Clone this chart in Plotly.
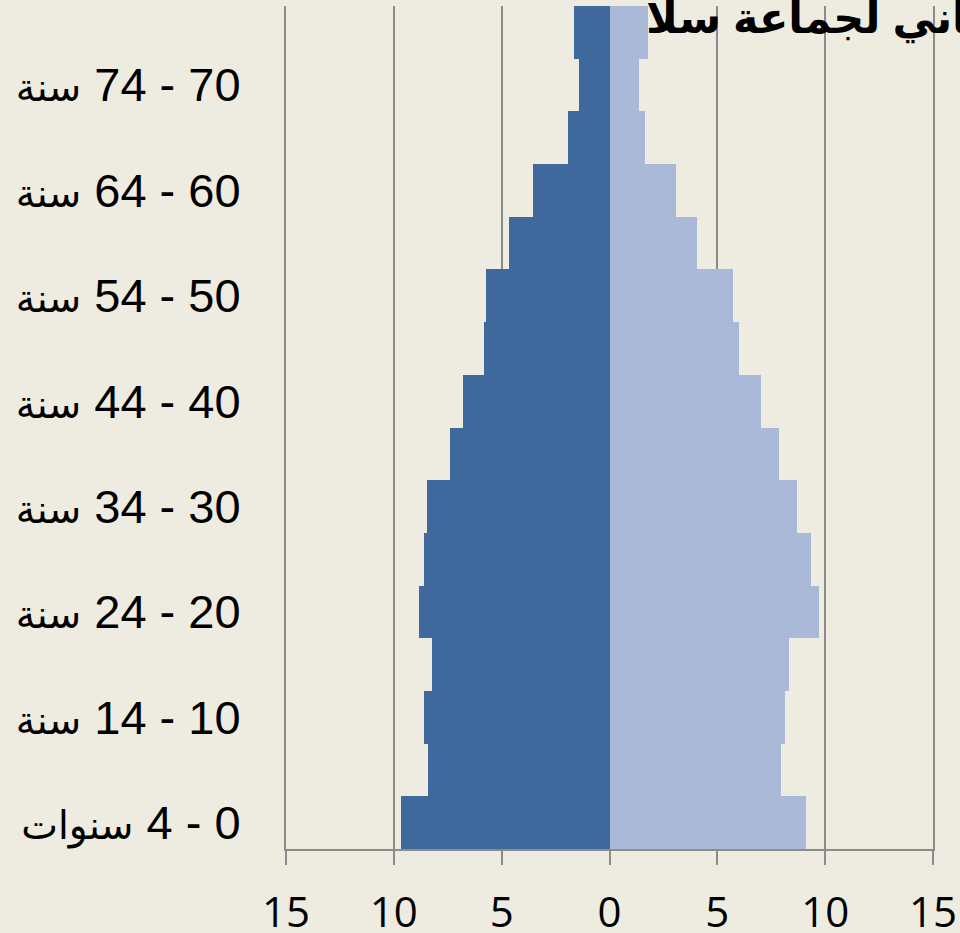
import plotly.graph_objects as go

# Age groups (bottom to top)
age_ranges = ["0 - 4", "5 - 9", "10 - 14", "15 - 19", "20 - 24", "25 - 29",
              "30 - 34", "35 - 39", "40 - 44", "45 - 49", "50 - 54", "55 - 59",
              "60 - 64", "65 - 69", "70 - 74", "75 +"]
age_units = ["سنوات", "سنوات", "سنة", "سنة", "سنة", "سنة", "سنة", "سنة",
             "سنة", "سنة", "سنة", "سنة", "سنة", "سنة", "سنة", "سنة"]

# Percentages
left_values = [9.67, 8.42, 8.58, 8.24, 8.85, 8.62, 8.48, 7.40,
               6.80, 5.80, 5.74, 4.64, 3.57, 1.92, 1.41, 1.64]
right_values = [9.11, 7.96, 8.16, 8.31, 9.70, 9.32, 8.71, 7.84,
                7.02, 6.00, 5.73, 4.07, 3.07, 1.63, 1.35, 1.77]

x_tick_vals = [-15, -10, -5, 0, 5, 10, 15]
x_tick_text = ["15", "10", "5", "0", "5", "10", "15"]

title_text = "الهرم السكاني لجماعة سلا"

BG = "#EEECE1"
DARK = "#3F699C"
LIGHT = "#AAB9D7"
GRID = "#8C8C8C"

age_groups = [r + " " + u for r, u in zip(age_ranges, age_units)]

fig = go.Figure()
fig.add_trace(go.Bar(y=age_groups, x=[-v for v in left_values], orientation="h",
                     marker=dict(color=DARK, line=dict(width=0)), name="ذكور",
                     hoverinfo="skip"))
fig.add_trace(go.Bar(y=age_groups, x=right_values, orientation="h",
                     marker=dict(color=LIGHT, line=dict(width=0)), name="إناث",
                     hoverinfo="skip"))

label_idx = list(range(0, len(age_groups), 2))
label_vals = [age_groups[i] for i in label_idx]
label_text = ["\u202B" + age_ranges[i] + " <span style='font-size:39px'>"
              + age_units[i] + "</span>\u202C" for i in label_idx]

n = len(age_groups)
boundaries = [i + 0.5 for i in range(n)]

fig.update_layout(
    width=960, height=933,
    paper_bgcolor=BG, plot_bgcolor=BG,
    margin=dict(l=286, r=27, t=6, b=84, autoexpand=False),
    barmode="overlay", bargap=0,
    showlegend=False,
    xaxis=dict(range=[-15, 15], tickvals=x_tick_vals, ticktext=x_tick_text,
               showgrid=True, gridcolor=GRID, gridwidth=2, zeroline=False,
               showline=True, linecolor=GRID, linewidth=2,
               ticks="outside", ticklen=14, tickwidth=2, tickcolor=GRID,
               ticklabelstandoff=12, automargin=False,
               tickfont=dict(family="Open Sans, sans-serif", size=42, color="black"),
               fixedrange=True),
    yaxis=dict(type="category", categoryorder="array", categoryarray=age_groups,
               range=[-0.5, n - 0.5], tickvals=label_vals, ticktext=label_text,
               showgrid=False, zeroline=False,
               showline=True, mirror=True, linecolor=GRID, linewidth=2,
               ticks="", automargin=False,
               ticklabelstandoff=34,
               tickfont=dict(family="Liberation Sans, DejaVu Sans, sans-serif",
                             size=47, color="black"),
               fixedrange=True),
    yaxis2=dict(overlaying="y", anchor="free", position=0.5, side="left",
                range=[-0.5, n - 0.5], tickvals=boundaries,
                showticklabels=False, showgrid=False, zeroline=False,
                showline=True, linecolor=GRID, linewidth=2,
                ticks="outside", ticklen=15, tickwidth=2, tickcolor=GRID,
                automargin=False, fixedrange=True),
    annotations=[dict(text="<b>" + title_text + "</b>", xref="paper", yref="paper",
                      x=0.5535, y=0.985, xanchor="left", yanchor="middle",
                      showarrow=False,
                      font=dict(family="Liberation Sans, DejaVu Sans, sans-serif",
                                size=43, color="black"))],
)

fig.write_html("out.html", config={"displayModeBar": False},
               post_script="document.body.style.margin='0';document.body.style.overflow='hidden';")
